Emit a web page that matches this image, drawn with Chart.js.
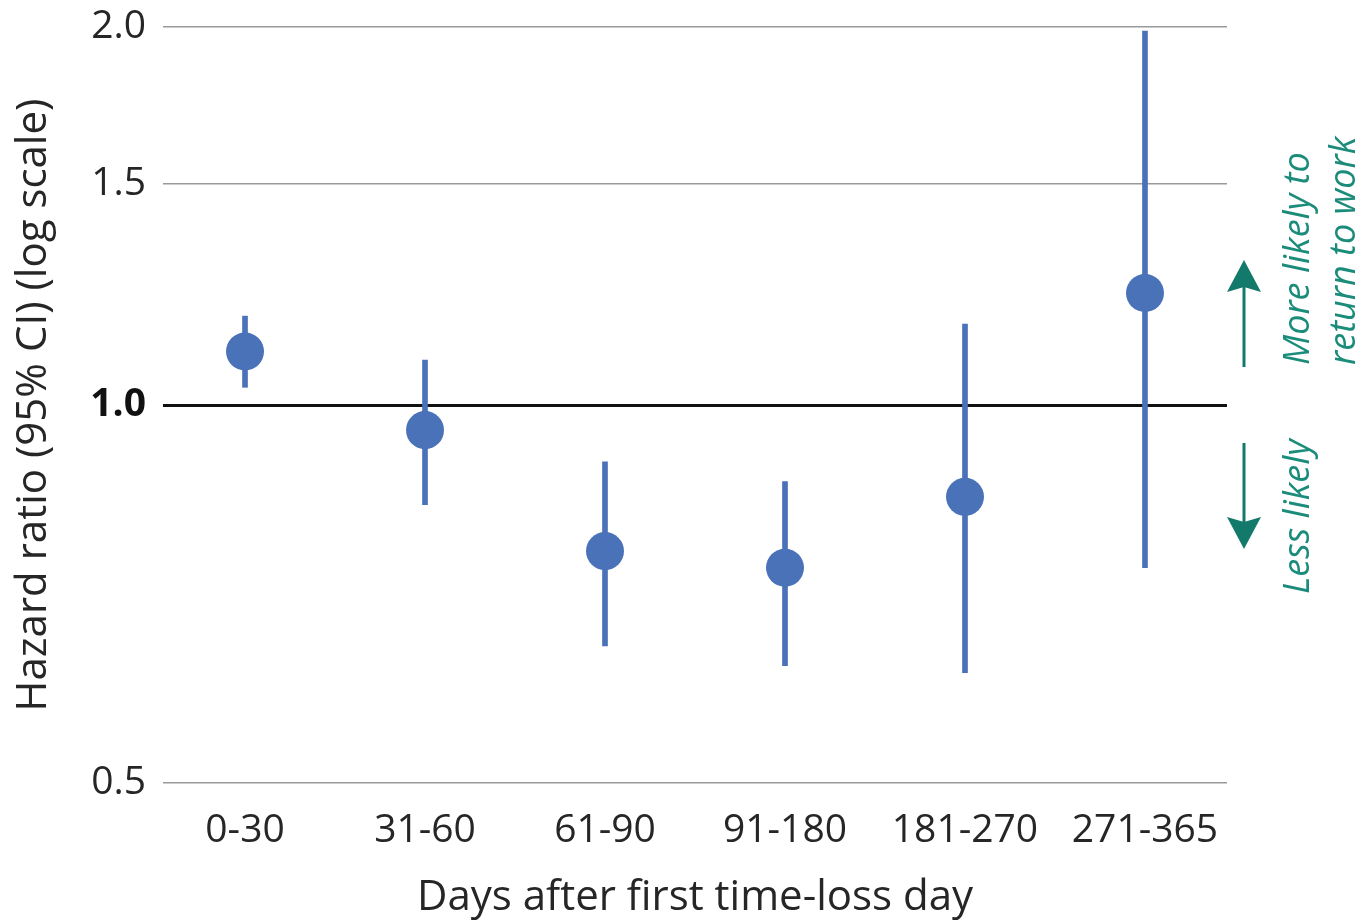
<!DOCTYPE html>
<html>
<head>
<meta charset="utf-8">
<script src="https://cdn.jsdelivr.net/npm/chart.js@4"></script>
<style>
  html, body { margin: 0; padding: 0; background: #ffffff; }
  #wrap { width: 1360px; height: 923px; }
</style>
</head>
<body>
<div id="wrap"><canvas id="c" width="1360" height="923"></canvas></div>
<script>
const categories = ["0-30", "31-60", "61-90", "91-180", "181-270", "271-365"];
const hazardRatio = [1.103, 0.955, 0.765, 0.742, 0.845, 1.228];
const ciLower = [1.033, 0.833, 0.643, 0.620, 0.612, 0.742];
const ciUpper = [1.177, 1.086, 0.901, 0.869, 1.160, 1.985];
const yTicks = [0.5, 1.0, 1.5, 2.0];

const FONT = "'Open Sans', 'DejaVu Sans', sans-serif";
const BLUE = '#4a72b8';
const TEAL = '#137a6b';

const annotations = {
  id: 'annotations',
  afterDraw(chart) {
    const ctx = chart.ctx;
    const y = chart.scales.y;
    const yOne = y.getPixelForValue(1.0);
    const ax = 1244;
    ctx.save();
    ctx.strokeStyle = TEAL;
    ctx.fillStyle = TEAL;
    ctx.lineWidth = 3;
    // up arrow
    ctx.beginPath(); ctx.moveTo(ax, yOne - 38); ctx.lineTo(ax, yOne - 120); ctx.stroke();
    ctx.beginPath(); ctx.moveTo(ax, yOne - 145); ctx.lineTo(ax - 17, yOne - 113); ctx.lineTo(ax, yOne - 118); ctx.lineTo(ax + 17, yOne - 113); ctx.closePath(); ctx.fill();
    // down arrow
    ctx.beginPath(); ctx.moveTo(ax, yOne + 38); ctx.lineTo(ax, yOne + 120); ctx.stroke();
    ctx.beginPath(); ctx.moveTo(ax, yOne + 144); ctx.lineTo(ax - 17, yOne + 112); ctx.lineTo(ax, yOne + 117); ctx.lineTo(ax + 17, yOne + 112); ctx.closePath(); ctx.fill();
    // text
    ctx.fillStyle = '#1b8c7a';
    ctx.font = "italic 36px " + FONT;
    ctx.textAlign = 'left';
    ctx.textBaseline = 'alphabetic';
    const rot = (x, yy, t) => { ctx.save(); ctx.translate(x, yy); ctx.rotate(-Math.PI / 2); ctx.fillText(t, 0, 0); ctx.restore(); };
    rot(1309, yOne - 40, 'More likely to');
    rot(1355, yOne - 40, 'return to work');
    rot(1309, yOne + 189, 'Less likely');
    ctx.restore();
  }
};

const ctx = document.getElementById('c').getContext('2d');
new Chart(ctx, {
  type: 'bar',
  data: {
    datasets: [
      {
        type: 'line',
        label: 'Hazard ratio',
        data: hazardRatio.map((v, i) => ({ x: i, y: v })),
        showLine: false,
        pointRadius: 19,
        pointHoverRadius: 19,
        pointBackgroundColor: BLUE,
        pointBorderColor: BLUE,
        pointBorderWidth: 0,
        order: 0
      },
      {
        type: 'bar',
        label: '95% CI',
        data: ciLower.map((lo, i) => ({ x: i, y: [lo, ciUpper[i]] })),
        backgroundColor: BLUE,
        borderWidth: 0,
        barThickness: 5,
        order: 1
      }
    ]
  },
  options: {
    responsive: false,
    animation: false,
    layout: { padding: { top: 27, right: 133, left: 0, bottom: 0 } },
    plugins: { legend: { display: false }, tooltip: { enabled: false } },
    scales: {
      x: {
        type: 'linear',
        min: -0.4556,
        max: 5.4556,
        offset: false,
        grid: { display: false },
        border: { display: false },
        afterBuildTicks: s => { s.ticks = categories.map((c, i) => ({ value: i })); },
        afterFit: s => { s.height = 140; s.paddingLeft = 0; s.paddingRight = 0; },
        ticks: {
          autoSkip: false,
          maxRotation: 0,
          padding: 16,
          color: '#262626',
          font: { family: FONT, size: 39 },
          callback: v => categories[v]
        },
        title: {
          display: true,
          text: 'Days after first time-loss day',
          color: '#262626',
          font: { family: FONT, size: 42 },
          padding: { top: 0, bottom: 0 }
        }
      },
      y: {
        type: 'logarithmic',
        min: 0.5,
        max: 2.0,
        border: { display: false },
        afterBuildTicks: s => { s.ticks = yTicks.map(v => ({ value: v })); },
        afterFit: s => { s.width = 163; s.paddingTop = 0; s.paddingBottom = 0; },
        grid: {
          drawTicks: false,
          color: c => (c.tick && c.tick.value === 1 ? '#111111' : '#9a9a9a'),
          lineWidth: c => (c.tick && c.tick.value === 1 ? 3 : 1.5)
        },
        ticks: {
          padding: 17,
          color: c => (c.tick && c.tick.value === 1 ? '#111111' : '#262626'),
          font: c => ({ family: FONT, size: 39, weight: (c.tick && c.tick.value === 1) ? 'bold' : 'normal' }),
          callback: v => Number(v).toFixed(1)
        },
        title: {
          display: true,
          text: 'Hazard ratio (95% CI) (log scale)',
          color: '#262626',
          font: { family: FONT, size: 42 },
          padding: { top: 9, bottom: 0 }
        }
      }
    }
  },
  plugins: [annotations]
});
</script>
</body>
</html>
